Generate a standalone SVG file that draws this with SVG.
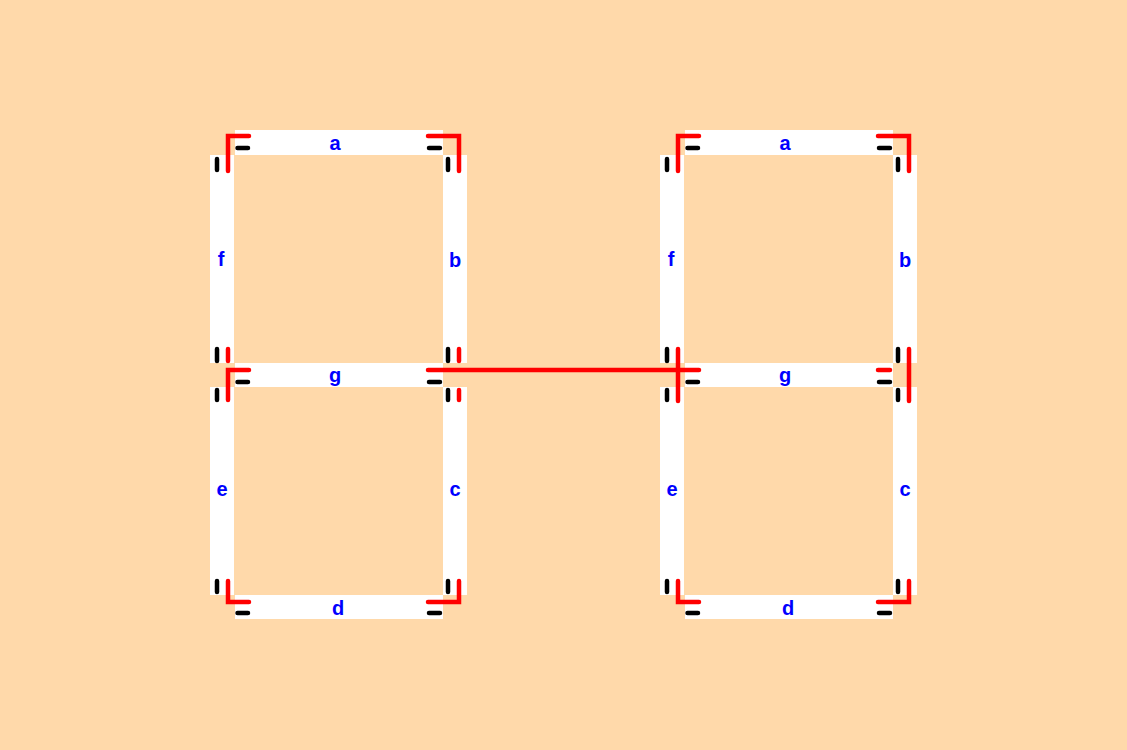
<svg xmlns="http://www.w3.org/2000/svg" width="1127" height="750" viewBox="0 0 1127 750">
<defs>
<style>
.seg{fill:#FFFFFF}
.pin{stroke:#000000;stroke-width:4.5;stroke-linecap:round;fill:none}
.wire{stroke:#FF0000;stroke-width:4.5;stroke-linecap:round;stroke-linejoin:miter;fill:none}
.lbl{font-family:"Liberation Sans",Arial,sans-serif;font-weight:bold;font-size:20px;fill:#0000FF;text-anchor:middle;dominant-baseline:central}
</style>
<g id="digitShape">
<rect id="sa" class="seg" x="235" y="130" width="208" height="25"/>
<rect id="sf" class="seg" x="210" y="155" width="24" height="208"/>
<rect id="sb" class="seg" x="443" y="155" width="24" height="208"/>
<rect id="sg" class="seg" x="235" y="363" width="208" height="24"/>
<rect id="se" class="seg" x="210" y="387" width="24" height="208"/>
<rect id="sc" class="seg" x="443" y="387" width="24" height="208"/>
<rect id="sd" class="seg" x="235" y="595" width="208" height="24"/>
<path class="pin" d="M237.500,148H248M429,148H440M217,159V170M217,349V361M448,159V170M448,349V361M237.500,382H248M429,382H440M217,390V400M217,581V592M448,390V400M448,581V592M237.500,613H248M429,613H440"/>
</g>
</defs>
<rect width="1127" height="750" fill="#FFD9AA"/>
<g id="digit-left">
<use href="#digitShape"/>
<text class="lbl" x="335" y="143">a</text>
<text class="lbl" x="221" y="259">f</text>
<text class="lbl" x="455" y="260">b</text>
<text class="lbl" x="335" y="375">g</text>
<text class="lbl" x="222" y="489">e</text>
<text class="lbl" x="455" y="489">c</text>
<text class="lbl" x="338" y="608">d</text>
</g>
<g id="digit-right">
<use href="#digitShape" x="450"/>
<text class="lbl" x="785" y="143">a</text>
<text class="lbl" x="671" y="259">f</text>
<text class="lbl" x="905" y="260">b</text>
<text class="lbl" x="785" y="375">g</text>
<text class="lbl" x="672" y="489">e</text>
<text class="lbl" x="905" y="489">c</text>
<text class="lbl" x="788" y="608">d</text>
</g>
<g id="connectors">
<path class="wire" d="M228,171V136H249"/>
<path class="wire" d="M428,136H459V171"/>
<path class="wire" d="M228,349V361"/>
<path class="wire" d="M459,349V361"/>
<path class="wire" d="M228,400V370H249"/>
<path class="wire" d="M459,390V400"/>
<path class="wire" d="M428,370H699"/>
<path class="wire" d="M228,581V602H249"/>
<path class="wire" d="M428,602H459V581"/>
<path class="wire" d="M678,171V136H699"/>
<path class="wire" d="M878,136H909V171"/>
<path class="wire" d="M678,349V401"/>
<path class="wire" d="M909,349V401"/>
<path class="wire" d="M878,370H890"/>
<path class="wire" d="M678,581V602H699"/>
<path class="wire" d="M878,602H909V581"/>
</g>
</svg>
